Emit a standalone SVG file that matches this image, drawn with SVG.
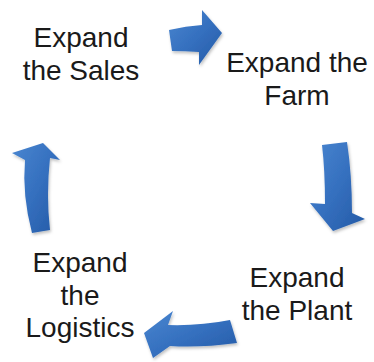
<svg xmlns="http://www.w3.org/2000/svg" width="374" height="362" viewBox="0 0 374 362">
<defs>
<linearGradient id="g" x1="0" y1="0" x2="1" y2="1">
<stop offset="0" stop-color="#4a86d0"/>
<stop offset="0.5" stop-color="#3570bf"/>
<stop offset="1" stop-color="#245aa6"/>
</linearGradient>
<filter id="sh" x="-20%" y="-20%" width="140%" height="140%">
<feDropShadow dx="1" dy="2" stdDeviation="1.5" flood-color="#000" flood-opacity="0.25"/>
</filter>
</defs>
<style>
.arrow{fill:url(#g);filter:url(#sh)}
.t{font-family:"Liberation Sans",Arial,sans-serif;font-size:28px;fill:#1a1a1a;text-anchor:middle}
</style>
<rect width="374" height="362" fill="#fff"/>
<g id="connectors">
<path class="arrow" d="M169,30 Q186,26 202,25 L202,10 L222,33 L199,65 L199,52 Q185,51 172,51 Z"/>
<path class="arrow" d="M322,145 L347,142 Q352,175 352,213 L365,219 L333,231 L310,203 L325,204 Q325,170 322,145 Z"/>
<path class="arrow" d="M230,320 L237,343 Q200,348 170,346 L153,358 L144,333 L173,311 L168,325 Q200,326 230,320 Z"/>
<path class="arrow" d="M43,143 L60,160 L50,158 Q46,195 50,230 L32,233 Q22,195 25,160 L12,153 Z"/>
</g>
<g id="sales">
<text class="t" x="81" y="47">Expand</text>
<text class="t" x="81" y="80">the Sales</text>
</g>
<g id="farm">
<text class="t" x="297" y="72">Expand the</text>
<text class="t" x="297" y="105">Farm</text>
</g>
<g id="plant">
<text class="t" x="297" y="287">Expand</text>
<text class="t" x="297" y="320">the Plant</text>
</g>
<g id="logistics">
<text class="t" x="80" y="272">Expand</text>
<text class="t" x="80" y="305">the</text>
<text class="t" x="80" y="337">Logistics</text>
</g>
</svg>
